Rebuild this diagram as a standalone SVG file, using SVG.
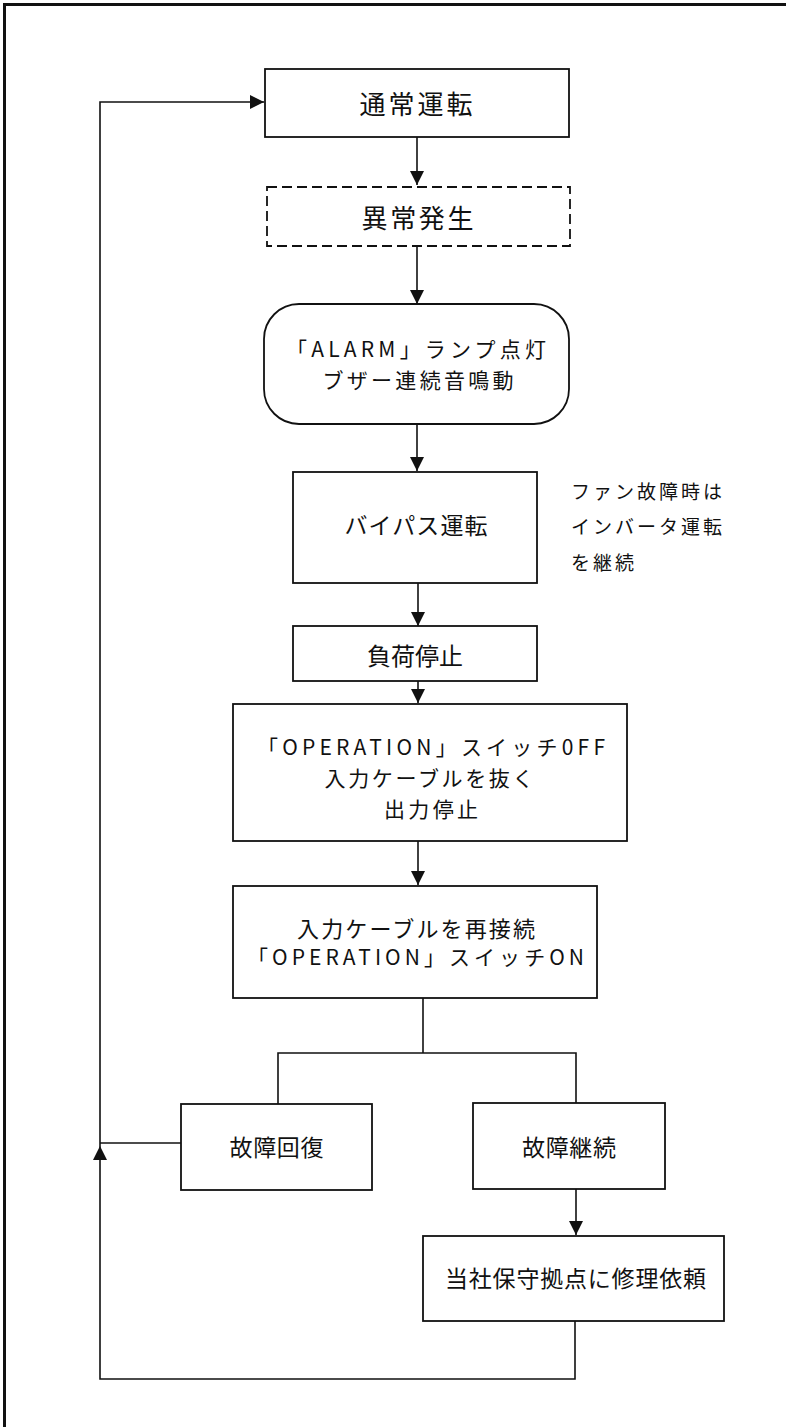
<svg xmlns="http://www.w3.org/2000/svg" width="786" height="1427" viewBox="0 0 786 1427">
<style>
.box{fill:#fff;stroke:#111;stroke-width:1.8}
.dash{stroke-dasharray:10 5}
.ln{fill:none;stroke:#111;stroke-width:1.6}
.t{font-family:"Noto Sans CJK JP","Noto Sans CJK SC",sans-serif;fill:#111;text-anchor:middle;dominant-baseline:central}
.s{font-family:"Noto Sans CJK JP","Noto Sans CJK SC",sans-serif;fill:#111;font-size:19px;letter-spacing:3px;dominant-baseline:central}
</style>
<defs>
<marker id="ah" viewBox="0 0 14 14" refX="14" refY="7" markerWidth="14" markerHeight="14" markerUnits="userSpaceOnUse" orient="auto">
<path d="M0,0 L14,7 L0,14 z" fill="#111"/>
</marker>
</defs>
<path d="M4.5,1427 V4.5 H786" fill="none" stroke="#111" stroke-width="3"/>
<g id="connectors">
<path class="ln" d="M417,137 V185" marker-end="url(#ah)"/>
<path class="ln" d="M417,246 V304" marker-end="url(#ah)"/>
<path class="ln" d="M417,424 V471" marker-end="url(#ah)"/>
<path class="ln" d="M418,583 V626" marker-end="url(#ah)"/>
<path class="ln" d="M418,681 V703" marker-end="url(#ah)"/>
<path class="ln" d="M418,841 V885" marker-end="url(#ah)"/>
<path class="ln" d="M423,998 V1053"/>
<path class="ln" d="M278,1104 V1053 H576 V1103"/>
<path class="ln" d="M576,1189 V1235" marker-end="url(#ah)"/>
<path class="ln" d="M181,1143 H100"/>
<path class="ln" d="M575,1321 V1379 H100 V1146" marker-end="url(#ah)"/>
<path class="ln" d="M100,1146 V102 H264" marker-end="url(#ah)"/>
</g>
<g id="n1">
<rect class="box" x="265" y="69" width="304" height="68"/>
<text class="t" x="416" y="102" font-size="26" textLength="113" lengthAdjust="spacing">通常運転</text>
</g>
<g id="n2">
<rect class="box dash" x="267" y="187" width="303" height="59"/>
<text class="t" x="417.5" y="216" font-size="26" textLength="112" lengthAdjust="spacing">異常発生</text>
</g>
<g id="n3">
<rect class="box" x="264" y="304" width="305" height="120" rx="35" ry="35"/>
<text class="t" x="416" y="348" font-size="21" textLength="260" lengthAdjust="spacing">「ALARM」ランプ点灯</text>
<text class="t" x="418" y="379" font-size="21" textLength="191" lengthAdjust="spacing">ブザー連続音鳴動</text>
</g>
<g id="n4">
<rect class="box" x="293" y="472" width="244" height="111"/>
<text class="t" x="416" y="524" font-size="23" textLength="143" lengthAdjust="spacing">バイパス運転</text>
</g>
<g id="note">
<text class="s" x="571" y="490">ファン故障時は</text>
<text class="s" x="571" y="525">インバータ運転</text>
<text class="s" x="571" y="561">を継続</text>
</g>
<g id="n5">
<rect class="box" x="293" y="626" width="244" height="55"/>
<text class="t" x="415" y="654" font-size="24" textLength="96" lengthAdjust="spacing">負荷停止</text>
</g>
<g id="n6">
<rect class="box" x="233" y="704" width="394" height="137"/>
<text class="t" x="431" y="746" font-size="21" textLength="348" lengthAdjust="spacing">「OPERATION」スイッチ0FF</text>
<text class="t" x="429" y="777" font-size="21" textLength="209" lengthAdjust="spacing">入力ケーブルを抜く</text>
<text class="t" x="431" y="808" font-size="21" textLength="94" lengthAdjust="spacing">出力停止</text>
</g>
<g id="n7">
<rect class="box" x="233" y="886" width="364" height="112"/>
<text class="t" x="416" y="927" font-size="22" textLength="238" lengthAdjust="spacing">入力ケーブルを再接続</text>
<text class="t" x="415.5" y="956" font-size="21" textLength="337" lengthAdjust="spacing">「OPERATION」スイッチON</text>
</g>
<g id="n8">
<rect class="box" x="181" y="1104" width="191" height="86"/>
<text class="t" x="276.5" y="1146" font-size="23" textLength="94" lengthAdjust="spacing">故障回復</text>
</g>
<g id="n9">
<rect class="box" x="473" y="1103" width="192" height="86"/>
<text class="t" x="569" y="1146" font-size="23" textLength="94" lengthAdjust="spacing">故障継続</text>
</g>
<g id="n10">
<rect class="box" x="423" y="1236" width="301" height="85"/>
<text class="t" x="575.5" y="1277" font-size="23" textLength="261" lengthAdjust="spacing">当社保守拠点に修理依頼</text>
</g>
</svg>
